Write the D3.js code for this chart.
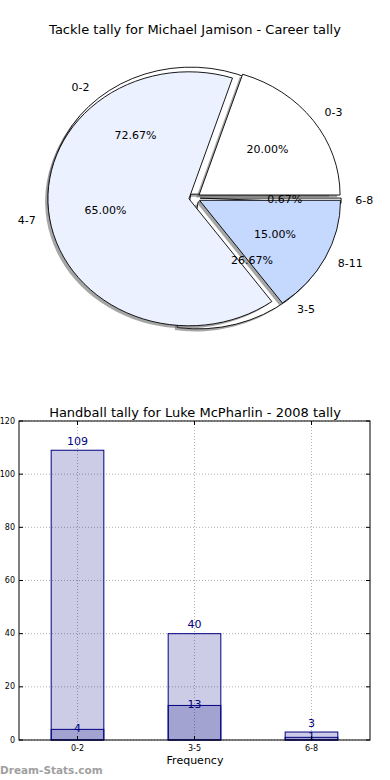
<!DOCTYPE html>
<html><head><meta charset="utf-8">
<script src="https://cdn.jsdelivr.net/npm/d3@7"></script>
<style>body{margin:0;background:#fff}svg{display:block;font-family:"DejaVu Sans",sans-serif}</style>
</head><body><svg id="c" width="390" height="780"></svg>
<script>
// ---- data ----
const pieTitle = "Tackle tally for Michael Jamison - Career tally";
const pieACats = ["0-2", "3-5", "6-8"];
const pieAValues = [72.67, 26.67, 0.67];
const pieBCats = ["0-3", "4-7", "8-11"];
const pieBValues = [20.00, 65.00, 15.00];

const barTitle = "Handball tally for Luke McPharlin - 2008 tally";
const barCats = ["0-2", "3-5", "6-8"];
const barTotals = [109, 40, 3];
const barSecond = [4, 13, 1];
const yTicks = [0, 20, 40, 60, 80, 100, 120];
const xLabel = "Frequency";
const watermark = "Dream-Stats.com";

// ---- layout / style ----
const svg = d3.select("#c");
const W = 390;
const pie = {cx: 194.5, cy: 198, rx: 141, ry: 127, explode: 0.04};
const pieAColors = ["#ffffff", "#ffffff", "#ffffff"];
const pieBColors = ["#ffffff", "#ebf1fe", "#c5d8fe"];

svg.append("text").attr("x", W/2).attr("y", 30).attr("text-anchor", "middle")
  .attr("dominant-baseline", "middle").attr("font-size", 13).attr("fill", "#000").text(pieTitle);

const pieGen = d3.pie().sort(null).startAngle(Math.PI/2).endAngle(Math.PI/2 - 2*Math.PI);
const arc = d3.arc().innerRadius(0).outerRadius(1);

function drawPie(cats, vals, colors) {
  const arcs = pieGen(vals);
  const g = svg.append("g");
  const items = arcs.map((a, i) => {
    const mid = (a.startAngle + a.endAngle) / 2;
    const ux = Math.sin(mid), uy = -Math.cos(mid);
    return {a, i, ux, uy,
      ox: pie.cx + pie.explode * pie.rx * ux,
      oy: pie.cy + pie.explode * pie.ry * uy};
  });
  // shadows
  g.selectAll("path.sh").data(items).join("path").attr("class", "sh")
    .attr("d", d => arc(d.a))
    .attr("transform", d => `translate(${d.ox - 0.02*pie.rx},${d.oy + 0.02*pie.ry}) scale(${pie.rx},${pie.ry})`)
    .attr("fill", "#4d4d4d").attr("fill-opacity", 0.5).attr("stroke", "none");
  g.selectAll("path.w").data(items).join("path").attr("class", "w")
    .attr("d", d => arc(d.a))
    .attr("transform", d => `translate(${d.ox},${d.oy}) scale(${pie.rx},${pie.ry})`)
    .attr("fill", d => colors[d.i]).attr("stroke", "#000").attr("stroke-width", 0.9)
    .attr("vector-effect", "non-scaling-stroke").attr("stroke-linejoin", "miter");
  return items.map(d => ({...d, cat: cats[d.i], val: vals[d.i]}));
}
const itemsA = drawPie(pieACats, pieAValues, pieAColors);
const itemsB = drawPie(pieBCats, pieBValues, pieBColors);
const tg = svg.append("g").attr("font-size", 11).attr("fill", "#000");
[...itemsA, ...itemsB].forEach(d => {
  const lx = d.ox + 1.1 * pie.rx * d.ux, ly = d.oy + 1.1 * pie.ry * d.uy;
  tg.append("text").attr("x", lx).attr("y", ly).attr("dominant-baseline", "middle")
    .attr("text-anchor", d.ux > 0 ? "start" : "end").text(d.cat);
  const px = d.ox + 0.6 * pie.rx * d.ux, py = d.oy + 0.6 * pie.ry * d.uy;
  tg.append("text").attr("x", px).attr("y", py).attr("dominant-baseline", "middle")
    .attr("text-anchor", "middle").text(d.val.toFixed(2) + "%");
});

// ---- bar chart ----
const m = {l: 19, r: 370, t: 421, b: 740};
const x = d3.scaleBand().domain(barCats).range([m.l, m.r]).paddingInner(0).paddingOuter(0);
const y = d3.scaleLinear().domain([0, 120]).range([m.b, m.t]);
const bw = x.bandwidth() * 0.45;
const cxOf = c => x(c) + x.bandwidth()/2;

svg.append("text").attr("x", W/2).attr("y", 413).attr("text-anchor", "middle")
  .attr("dominant-baseline", "middle").attr("font-size", 13).text(barTitle);

const grid = svg.append("g").attr("stroke", "#b0b0b0").attr("stroke-width", 1).attr("stroke-dasharray", "1,2");
yTicks.forEach(t => grid.append("line").attr("x1", m.l).attr("x2", m.r).attr("y1", y(t)).attr("y2", y(t)));
barCats.forEach(c => grid.append("line").attr("x1", cxOf(c)).attr("x2", cxOf(c)).attr("y1", m.t).attr("y2", m.b));

const bars = svg.append("g");
bars.selectAll("rect.t").data(barCats).join("rect").attr("class", "t")
  .attr("x", c => cxOf(c) - bw/2).attr("width", bw)
  .attr("y", (c, i) => y(barTotals[i])).attr("height", (c, i) => y(0) - y(barTotals[i]))
  .attr("fill", "#000080").attr("fill-opacity", 0.2).attr("stroke", "#000080").attr("stroke-width", 1);
bars.selectAll("rect.s").data(barCats).join("rect").attr("class", "s")
  .attr("x", c => cxOf(c) - bw/2).attr("width", bw)
  .attr("y", (c, i) => y(barSecond[i])).attr("height", (c, i) => y(0) - y(barSecond[i]))
  .attr("fill", "#000080").attr("fill-opacity", 0.2).attr("stroke", "#000080").attr("stroke-width", 1);

const lbl = svg.append("g").attr("font-size", 11).attr("fill", "#000080").attr("text-anchor", "middle")
  .attr("dominant-baseline", "middle");
barCats.forEach((c, i) => {
  lbl.append("text").attr("x", cxOf(c)).attr("y", y(barTotals[i]) - 8.5).text(barTotals[i]);
  lbl.append("text").attr("x", cxOf(c)).attr("y", y(barSecond[i])).text(barSecond[i]);
});

// frame
svg.append("rect").attr("x", m.l).attr("y", m.t).attr("width", m.r - m.l).attr("height", m.b - m.t)
  .attr("fill", "none").attr("stroke", "#000").attr("stroke-width", 1);
// ticks
const tk = svg.append("g").attr("stroke", "#000").attr("stroke-width", 1);
yTicks.forEach(t => {
  tk.append("line").attr("x1", m.l).attr("x2", m.l + 4).attr("y1", y(t)).attr("y2", y(t));
  tk.append("line").attr("x1", m.r - 4).attr("x2", m.r).attr("y1", y(t)).attr("y2", y(t));
});
barCats.forEach(c => {
  tk.append("line").attr("x1", cxOf(c)).attr("x2", cxOf(c)).attr("y1", m.b).attr("y2", m.b - 4);
  tk.append("line").attr("x1", cxOf(c)).attr("x2", cxOf(c)).attr("y1", m.t).attr("y2", m.t + 4);
});
const tl = svg.append("g").attr("font-size", 8).attr("fill", "#000");
yTicks.forEach(t => tl.append("text").attr("x", m.l - 4).attr("y", y(t)).attr("text-anchor", "end")
  .attr("dominant-baseline", "middle").text(t));
barCats.forEach(c => tl.append("text").attr("x", cxOf(c)).attr("y", m.b + 8).attr("text-anchor", "middle")
  .attr("dominant-baseline", "middle").text(c));

svg.append("text").attr("x", W/2).attr("y", 761).attr("text-anchor", "middle").attr("dominant-baseline", "middle")
  .attr("font-size", 11).text(xLabel);
svg.append("text").attr("x", 0).attr("y", 771).attr("dominant-baseline", "middle")
  .attr("font-size", 10.5).attr("font-weight", "bold").attr("fill", "#a0a0a0").text(watermark);
</script></body></html>
